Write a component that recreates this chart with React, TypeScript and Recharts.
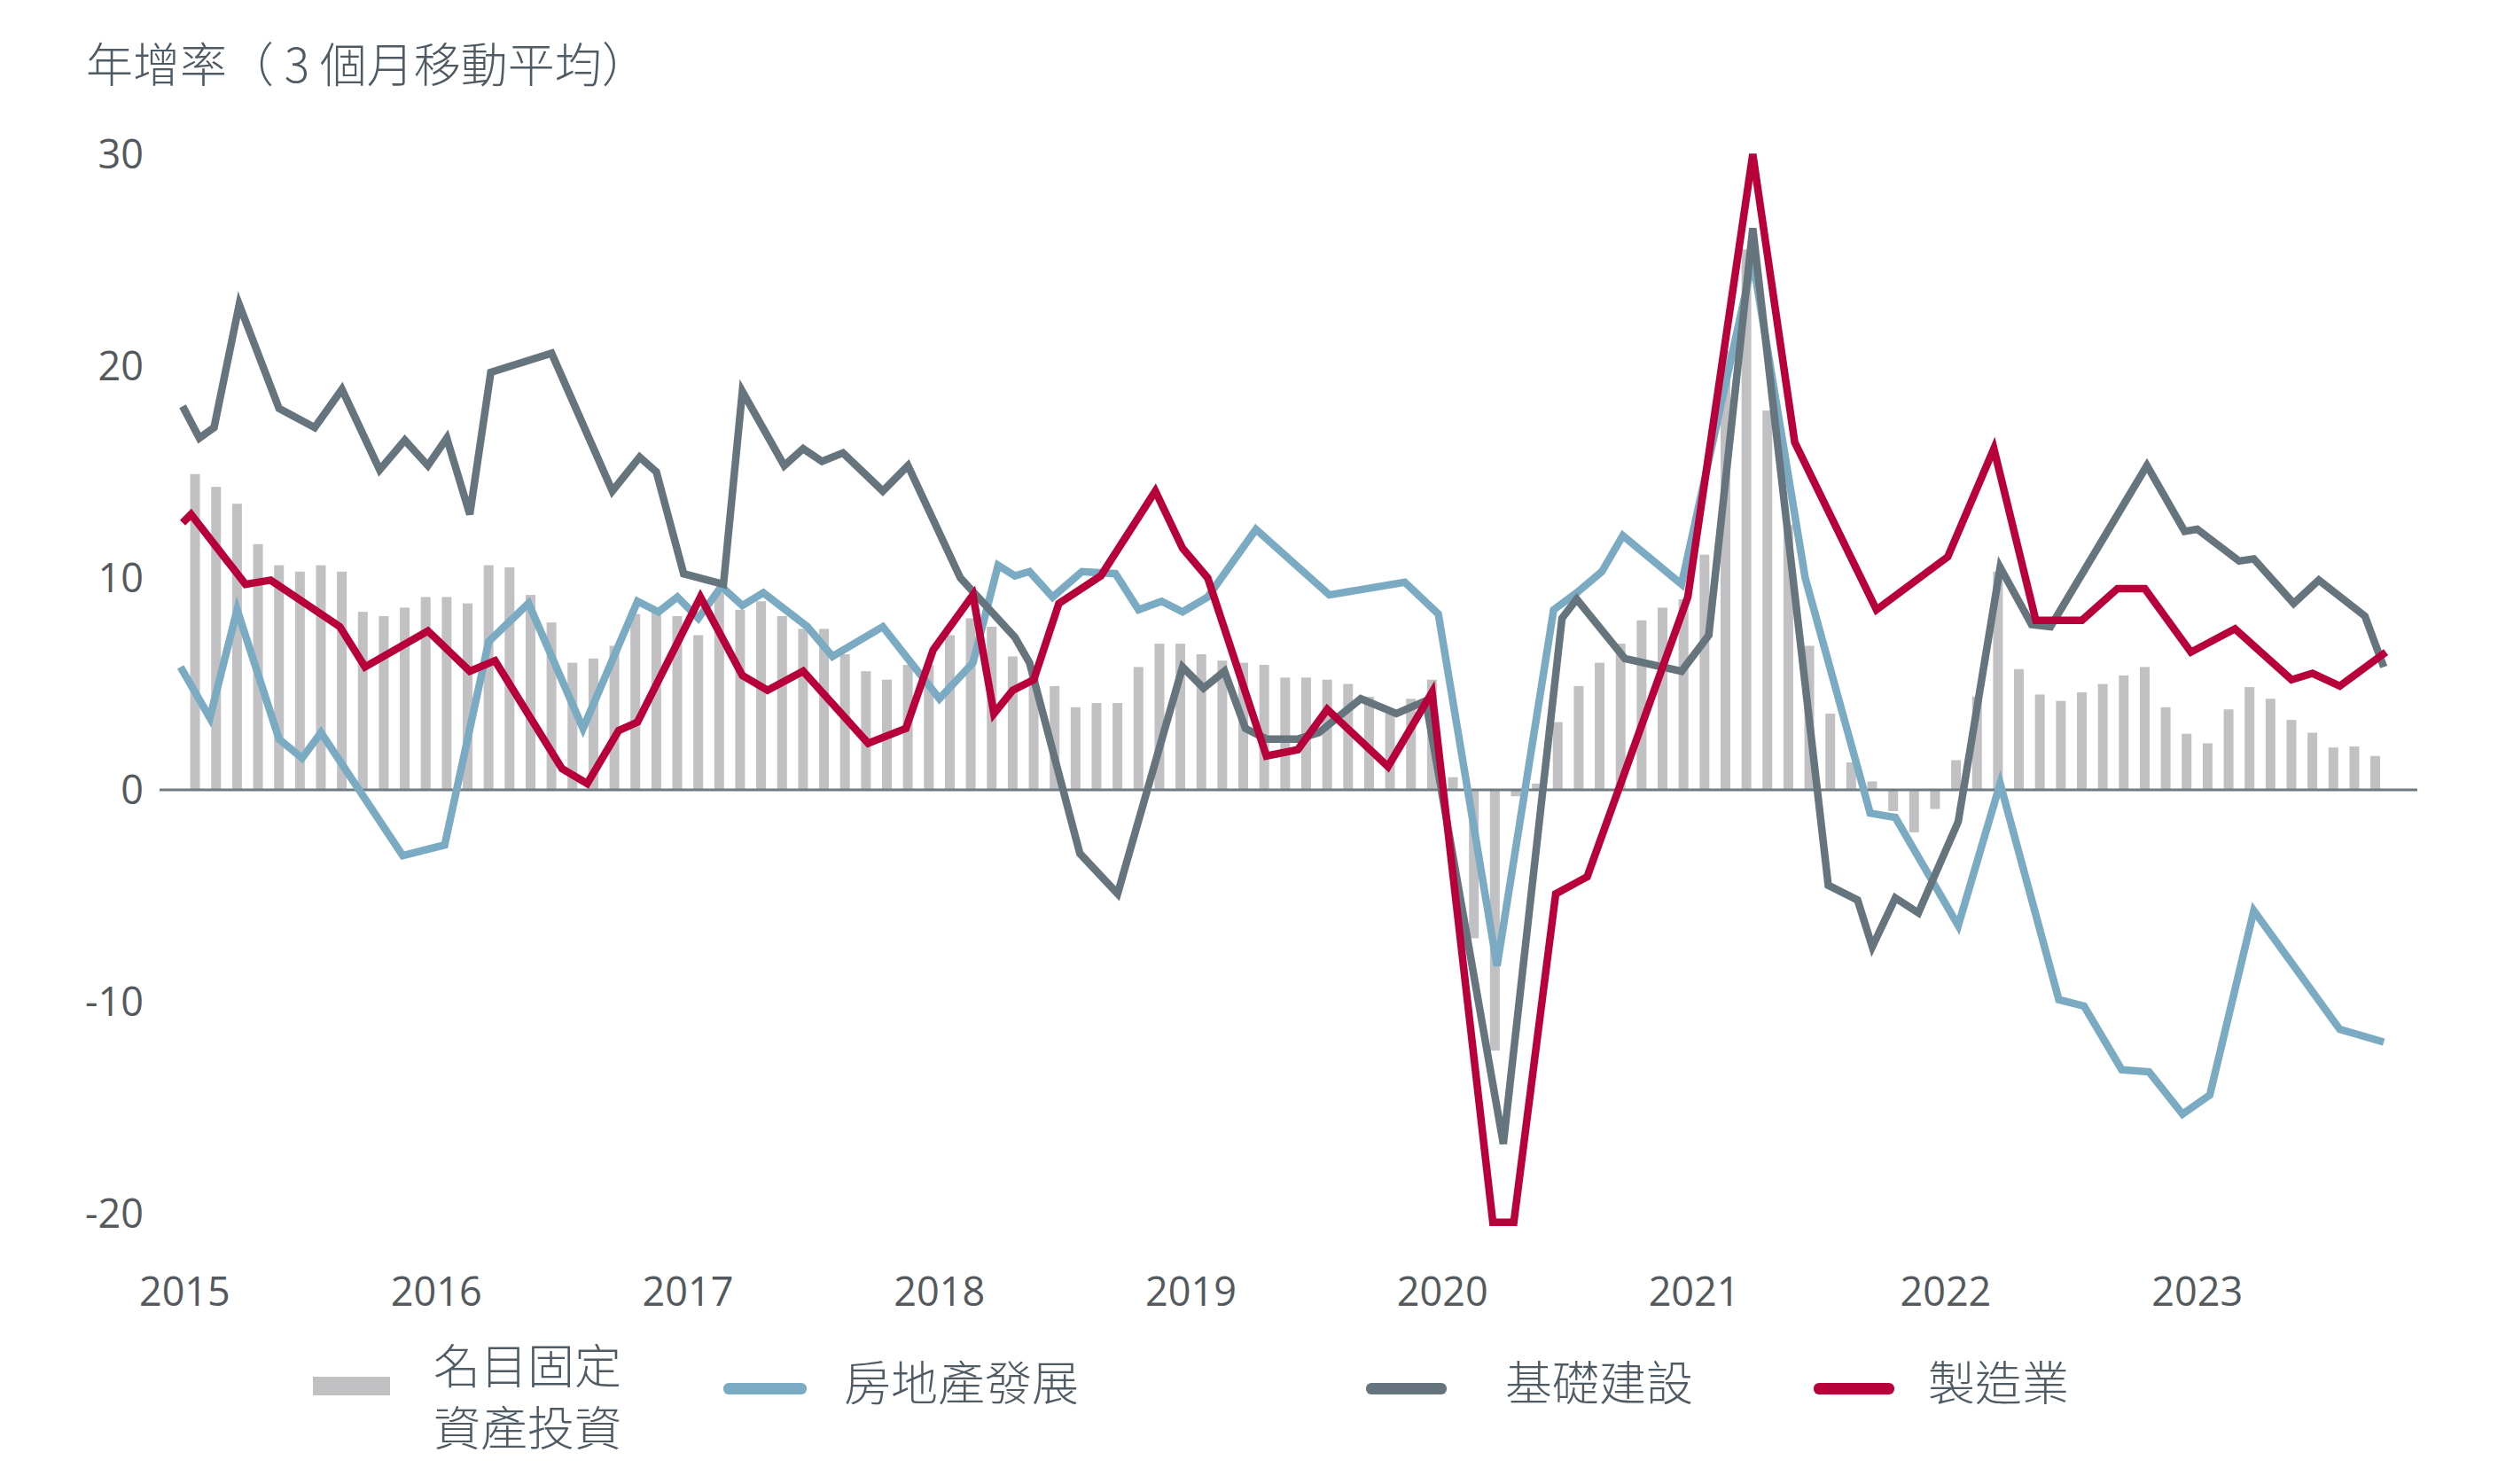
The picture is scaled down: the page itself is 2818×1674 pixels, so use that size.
import { ComposedChart, Bar, Line, XAxis, YAxis, ReferenceLine } from 'recharts'

const W = 2818
const H = 1674

const TEXT = '#4e5a64'
const BAR = '#c1c1c3'
const BLUE = '#7aabc2'
const SLATE = '#66747d'
const RED = '#b8003a'
const CJK = "'Noto Sans CJK TC', 'Noto Sans', sans-serif"
const NUM = "'Open Sans', 'Noto Sans CJK TC', sans-serif"

// x is months since Jan 2015
const yearTicks = [0, 12, 24, 36, 48, 60, 72, 84, 96]
const yearLabels = ['2015', '2016', '2017', '2018', '2019', '2020', '2021', '2022', '2023']
const valueTicks = [-20, -10, 0, 10, 20, 30]

// 名目固定資產投資, monthly Jan 2015 – Sep 2023
const fixedAsset = [
  14.9, 14.3, 13.5, 11.6, 10.6, 10.3, 10.6, 10.3, 8.4, 8.2, 8.6, 9.1,
  9.1, 8.8, 10.6, 10.5, 9.2, 7.9, 6.0, 6.2, 6.8, 8.3, 8.4, 8.2,
  7.3, 9.3, 8.5, 8.9, 8.2, 7.6, 7.6, 6.4, 5.6, 5.2, 5.9, 5.9,
  7.3, 8.1, 7.7, 6.3, 5.5, 4.9, 3.9, 4.1, 4.1, 5.8, 6.9, 6.9,
  6.4, 6.1, 6.0, 5.9, 5.3, 5.3, 5.2, 5.0, 4.4, 3.6, 4.3, 5.2,
  0.6, -7.0, -12.3, -0.3, 0.3, 3.2, 4.9, 6.0, 6.9, 8.0, 8.6, 9.0,
  11.1, 20.7, 25.5, 17.9, 12.5, 6.8, 3.6, 1.3, 0.4, -1.0, -2.0, -0.9,
  1.4, 4.4, 10.3, 5.7, 4.5, 4.2, 4.6, 5.0, 5.4, 5.8, 3.9, 2.65,
  2.2, 3.8, 4.85, 4.3, 3.3, 2.7, 2.0, 2.05, 1.6,
]

// [month, value]
const realEstate: [number, number][] = [
  [-0.2, 5.8], [1.2, 3.4], [2.5, 8.5], [4.5, 2.4], [5.6, 1.5], [6.5, 2.7], [10.4, -3.1], [12.4, -2.6],
  [14.5, 7.0], [16.4, 8.8], [19.0, 2.9], [21.6, 8.9], [22.6, 8.4], [23.5, 9.1], [24.5, 8.1], [25.6, 9.6],
  [26.6, 8.7], [27.6, 9.3], [29.7, 7.7], [30.9, 6.3], [33.3, 7.7], [36.0, 4.3], [37.6, 6.0], [38.8, 10.6],
  [39.6, 10.1], [40.3, 10.3], [41.4, 9.1], [42.8, 10.3], [44.4, 10.2], [45.5, 8.5], [46.6, 8.9], [47.6, 8.4],
  [48.8, 9.1], [51.1, 12.3], [54.6, 9.2], [58.2, 9.8], [59.8, 8.3], [62.6, -8.3], [65.3, 8.5], [66.4, 9.3],
  [67.6, 10.3], [68.6, 12.0], [71.4, 9.7], [74.8, 25.0], [77.3, 10.0], [80.4, -1.1], [81.6, -1.3], [84.6, -6.4],
  [86.6, 0.3], [89.4, -9.9], [90.6, -10.2], [92.4, -13.2], [93.7, -13.3], [95.3, -15.3], [96.6, -14.4],
  [98.7, -5.7], [102.8, -11.3], [104.9, -11.9],
]

const infrastructure: [number, number][] = [
  [-0.1, 18.1], [0.7, 16.6], [1.4, 17.1], [2.6, 22.9], [4.5, 18.0], [6.2, 17.1], [7.5, 18.9], [9.3, 15.1],
  [10.5, 16.5], [11.6, 15.3], [12.5, 16.6], [13.6, 13.0], [14.6, 19.7], [17.5, 20.6], [20.4, 14.1], [21.7, 15.7],
  [22.5, 15.0], [23.8, 10.2], [25.7, 9.7], [26.6, 18.8], [28.6, 15.3], [29.5, 16.1], [30.4, 15.5], [31.4, 15.9],
  [33.3, 14.1], [34.5, 15.3], [37.0, 10.0], [39.6, 7.2], [40.3, 6.0], [42.7, -3.0], [44.5, -4.9], [47.6, 5.8],
  [48.6, 4.8], [49.6, 5.6], [50.6, 2.9], [51.6, 2.4], [53.1, 2.4], [54.1, 2.7], [56.1, 4.3], [57.8, 3.6],
  [59.2, 4.2], [62.9, -16.7], [65.7, 8.1], [66.4, 9.0], [68.7, 6.2], [71.4, 5.6], [72.7, 7.3], [74.8, 26.5],
  [78.4, -4.5], [79.8, -5.2], [80.5, -7.4], [81.6, -5.1], [82.7, -5.8], [84.6, -1.5], [86.6, 10.5], [88.1, 7.8],
  [89.0, 7.7], [93.6, 15.3], [95.4, 12.2], [96.0, 12.3], [98.0, 10.8], [98.7, 10.9], [100.6, 8.8], [101.8, 9.9],
  [104.0, 8.2], [104.9, 5.8],
]

const manufacturing: [number, number][] = [
  [-0.1, 12.6], [0.3, 13.0], [2.9, 9.7], [4.1, 9.9], [7.4, 7.7], [8.6, 5.8], [11.6, 7.5], [13.6, 5.6],
  [14.8, 6.1], [18.0, 1.0], [19.2, 0.3], [20.7, 2.8], [21.6, 3.2], [24.6, 9.1], [26.6, 5.4], [27.8, 4.7],
  [29.5, 5.6], [32.6, 2.2], [34.4, 2.9], [35.7, 6.6], [37.6, 9.2], [38.6, 3.6], [39.5, 4.7], [40.5, 5.2],
  [41.7, 8.8], [43.7, 10.1], [46.3, 14.1], [47.6, 11.4], [48.8, 10.0], [51.6, 1.6], [53.1, 1.9], [54.5, 3.8],
  [57.4, 1.1], [59.5, 4.6], [62.4, -20.4], [63.4, -20.4], [65.4, -4.9], [66.9, -4.1], [71.7, 9.1], [74.8, 30.0],
  [76.8, 16.4], [80.7, 8.5], [84.1, 11.0], [86.3, 16.1], [88.3, 8.0], [90.5, 8.0], [92.2, 9.5], [93.5, 9.5],
  [95.7, 6.5], [97.8, 7.6], [100.5, 5.2], [101.5, 5.5], [102.8, 4.9], [105.0, 6.5],
]

const barRows = fixedAsset.map((v, i) => ({ t: i + 0.5, fai: v }))
const toRows = (pts: [number, number][]) => pts.map(([t, v]) => ({ t, v }))

const lineSeries = [
  { name: '房地產發展', pts: realEstate, color: BLUE },
  { name: '基礎建設', pts: infrastructure, color: SLATE },
  { name: '製造業', pts: manufacturing, color: RED },
]

// fixed-width bar centred on its month
const BAR_W = 11
function MonthBar(props: any) {
  const { x, y, width, height } = props
  if (x == null || y == null || !height) return <g />
  const top = height < 0 ? y + height : y
  return <rect x={x + width / 2 - BAR_W / 2} y={top} width={BAR_W} height={Math.abs(height)} fill={BAR} />
}

function LineKey({ left, swatch, textLeft, text, color }: { left: number; swatch: number; textLeft: number; text: string; color: string }) {
  return (
    <>
      <div style={{ position: 'absolute', left, top: 1560, width: swatch, height: 13, borderRadius: 6, background: color }} />
      <div style={{ position: 'absolute', left: textLeft, top: 1522, fontSize: 53, lineHeight: '70px', whiteSpace: 'nowrap' }}>{text}</div>
    </>
  )
}

const tickStyle = { fill: '#54595e', fontSize: 45, fontFamily: NUM, fontWeight: 400 }

export default function App() {
  return (
    <div style={{ position: 'absolute', left: 0, top: 0, width: W, height: H, background: '#fff', fontFamily: CJK, color: TEXT, fontWeight: 300 }}>
      <div style={{ position: 'absolute', left: 97, top: 44, fontSize: 53, lineHeight: '53px', whiteSpace: 'nowrap' }}>
        年增率（ 3 個月移動平均）
      </div>

      <ComposedChart width={W} height={H} data={barRows} margin={{ top: 126, right: 91, bottom: 197, left: 80 }}>
        <XAxis
          dataKey="t"
          type="number"
          domain={[-1.2, 106.5]}
          ticks={yearTicks}
          tickFormatter={(t: number) => yearLabels[yearTicks.indexOf(t)] ?? ''}
          axisLine={false}
          tickLine={false}
          tickMargin={18}
          height={60}
          tick={tickStyle}
          allowDataOverflow
        />
        <YAxis
          type="number"
          domain={[-22, 32]}
          ticks={valueTicks}
          axisLine={false}
          tickLine={false}
          tickMargin={12}
          width={100}
          tick={tickStyle}
          allowDataOverflow
        />
        <Bar dataKey="fai" fill={BAR} barSize={BAR_W} shape={MonthBar} isAnimationActive={false} />
        <ReferenceLine y={0} stroke="#6f7a82" strokeWidth={3} />
        {lineSeries.map((s) => (
          <Line
            key={s.name}
            data={toRows(s.pts)}
            dataKey="v"
            type="linear"
            stroke={s.color}
            strokeWidth={8.5}
            dot={false}
            activeDot={false}
            isAnimationActive={false}
          />
        ))}
      </ComposedChart>

      {/* legend */}
      <div style={{ position: 'absolute', left: 353, top: 1553, width: 87, height: 21, background: BAR }} />
      <div style={{ position: 'absolute', left: 489, top: 1503, fontSize: 53, lineHeight: '70px', whiteSpace: 'nowrap' }}>
        名目固定
        <br />
        資產投資
      </div>
      <LineKey left={816} swatch={94} textLeft={952} text="房地產發展" color={BLUE} />
      <LineKey left={1541} swatch={91} textLeft={1698} text="基礎建設" color={SLATE} />
      <LineKey left={2046} swatch={91} textLeft={2175} text="製造業" color={RED} />
    </div>
  )
}
